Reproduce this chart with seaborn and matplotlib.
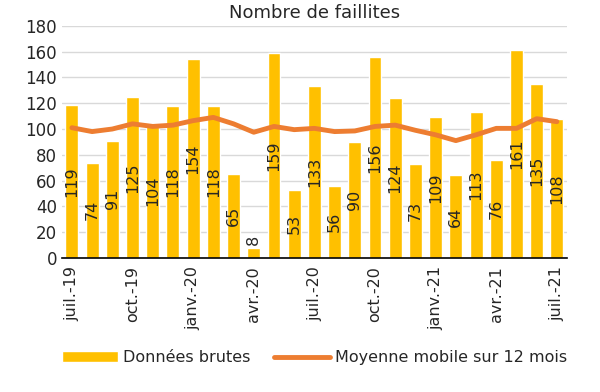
import matplotlib
matplotlib.use('Agg')
import pandas as pd
import matplotlib.pyplot as plt
import seaborn as sns

mois = ['juil.-19', 'août-19', 'sept.-19', 'oct.-19', 'nov.-19', 'déc.-19',
        'janv.-20', 'févr.-20', 'mars-20', 'avr.-20', 'mai-20', 'juin-20',
        'juil.-20', 'août-20', 'sept.-20', 'oct.-20', 'nov.-20', 'déc.-20',
        'janv.-21', 'févr.-21', 'mars-21', 'avr.-21', 'mai-21', 'juin-21',
        'juil.-21']
brutes = [119, 74, 91, 125, 104, 118, 154, 118, 65, 8, 159, 53, 133,
          56, 90, 156, 124, 73, 109, 64, 113, 76, 161, 135, 108]
moyenne = [101, 98, 100, 104, 102, 103, 106.5, 109, 104, 97.5, 102, 99.5, 100.5,
           98, 98.5, 102, 103, 99, 95.5, 91, 95.5, 100.5, 100.5, 108, 105.7]

df = pd.DataFrame({'pos': range(len(mois)), 'Mois': mois,
                   'Données brutes': brutes, 'Moyenne': moyenne})

sns.set_style('white')
plt.rcParams['font.family'] = ['DejaVu Sans']

fig = plt.figure(figsize=(6, 3.92), dpi=100)
ax = fig.add_axes([0.103, 0.342, 0.842, 0.592])

sns.barplot(data=df, x='pos', y='Données brutes', color='#FFC000', width=0.64,
            saturation=1, ax=ax, label='Données brutes', zorder=2)
sns.lineplot(data=df, x='pos', y='Moyenne', color='#ED7D31', linewidth=3.5,
             ax=ax, label='Moyenne mobile sur 12 mois', zorder=3)

# étiquettes des barres
for i, v in enumerate(brutes):
    if v > 25:
        ax.text(i, v / 2, str(v), rotation=90, ha='center', va='center', fontsize=11.5, zorder=4)
    else:
        ax.text(i, v + 2, str(v), rotation=90, ha='center', va='bottom', fontsize=11.5, zorder=4)

ax.set_ylim(0, 180)
ax.set_yticks(range(0, 181, 20))
ax.set_xlim(-0.5, len(mois) - 0.5)
ax.yaxis.grid(True, color='#D9D9D9', linewidth=1, zorder=0)
ax.set_axisbelow(True)

ax.set_xticks(range(0, len(mois), 3))
ax.set_xticklabels([mois[i] for i in range(0, len(mois), 3)], rotation=90, fontsize=11.5)
ax.set_xticks([i - 0.5 for i in range(0, len(mois), 3)], minor=True)
ax.tick_params(axis='x', which='major', length=0, pad=6)
ax.tick_params(axis='x', which='minor', length=5, width=1.2, color='black', direction='out')
ax.tick_params(axis='y', length=0, labelsize=12)

for s in ['left', 'right', 'top']:
    ax.spines[s].set_visible(False)
ax.spines['bottom'].set_color('black')
ax.spines['bottom'].set_linewidth(1.2)

ax.set_xlabel('')
ax.set_ylabel('')
ax.set_title('Nombre de faillites', fontsize=13, pad=6)

handles, labels = ax.get_legend_handles_labels()
order = [labels.index('Données brutes'), labels.index('Moyenne mobile sur 12 mois')]
ax.legend([handles[k] for k in order], [labels[k] for k in order],
          loc='center', bbox_to_anchor=(0.5, -0.43), ncol=2,
          frameon=False, fontsize=11.5, handlelength=3.5, columnspacing=1.5,
          handletextpad=0.3)

fig.savefig('out.png', dpi=100)
